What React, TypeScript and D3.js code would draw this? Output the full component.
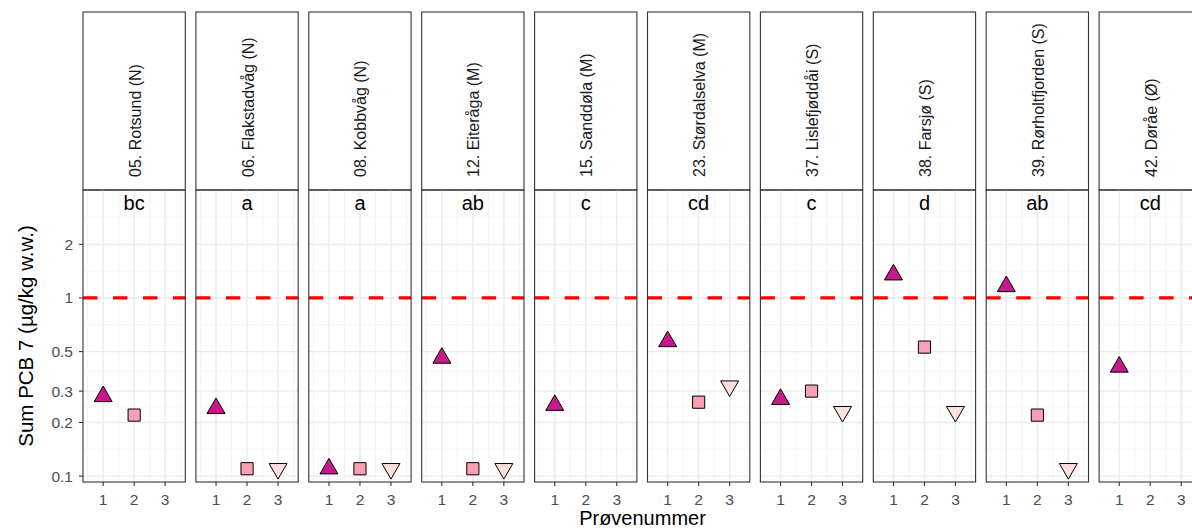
import React from "react";
import * as d3 from "d3";

const stations = [
  "05. Rotsund (N)",
  "06. Flakstadvåg (N)",
  "08. Kobbvåg (N)",
  "12. Eiteråga (M)",
  "15. Sanddøla (M)",
  "23. Størdalselva (M)",
  "37. Lislefjøddåi (S)",
  "38. Farsjø (S)",
  "39. Rørholtfjorden (S)",
  "42. Døråe (Ø)",
];
const letters = ["bc", "a", "a", "ab", "c", "cd", "c", "d", "ab", "cd"];
const sample1: (number | null)[] = [0.28, 0.24, 0.11, 0.46, 0.25, 0.57, 0.27, 1.35, 1.16, 0.41];
const sample2: (number | null)[] = [0.22, 0.11, 0.11, 0.11, null, 0.26, 0.3, 0.53, 0.22, null];
const sample3: (number | null)[] = [null, 0.11, 0.11, 0.11, null, 0.32, 0.23, 0.23, 0.11, null];
const yTicks = [0.1, 0.2, 0.3, 0.5, 1, 2];
const xTicks = [1, 2, 3];
const xMinor = [0.5, 1.5, 2.5, 3.5];
const threshold = 1;
const letterY = 3.4;

const W = 1192;
const H = 530;
const panelLeft0 = 83;
const panelStep = 112.9;
const panelW = 102.3;
const stripTop = 12;
const panelTop = 190;
const panelBottom = 482;

const fills = ["#C51B8A", "#FA9FB5", "#FDE0DD"];
const font = "'Liberation Sans', Arial, sans-serif";

export default function App() {
  const logMin = Math.log10(0.11);
  const logMax = Math.log10(letterY);
  const pad = (logMax - logMin) * 0.05;
  const y = d3
    .scaleLog()
    .domain([Math.pow(10, logMin - pad), Math.pow(10, logMax + pad)])
    .range([panelBottom, panelTop]);

  const lims = [logMin - pad, ...yTicks.map(Math.log10), logMax + pad];
  const yMinor: number[] = [];
  for (let i = 0; i < lims.length - 1; i++) {
    yMinor.push(Math.pow(10, (lims[i] + lims[i + 1]) / 2));
  }

  const series = [sample1, sample2, sample3];
  const triUp = d3.symbol().type(d3.symbolTriangle).size(140)()!;
  const square = d3.symbol().type(d3.symbolSquare).size(148)()!;

  return (
    <svg
      width={W}
      height={H}
      style={{ position: "absolute", left: 0, top: 0, background: "#fff" }}
      fontFamily={font}
    >
      <rect x={0} y={0} width={W} height={H} fill="#fff" />
      {stations.map((st, i) => {
        const left = panelLeft0 + i * panelStep;
        const x = d3.scaleLinear().domain([0.35, 3.65]).range([left, left + panelW]);
        const cx = left + panelW / 2;
        return (
          <g key={st}>
            <rect
              x={left}
              y={stripTop}
              width={panelW}
              height={panelTop - stripTop}
              fill="#fff"
              stroke="#333"
              strokeWidth={1.1}
            />
            <text
              transform={`translate(${cx + 1},${panelTop - 13}) rotate(-90)`}
              fontSize={16}
              fill="#1A1A1A"
              textAnchor="start"
              dominantBaseline="central"
            >
              {st}
            </text>
            {yMinor.map((v, k) => (
              <line key={"ym" + k} x1={left} x2={left + panelW} y1={y(v)} y2={y(v)} stroke="#F2F2F2" strokeWidth={0.8} />
            ))}
            {xMinor.map((v, k) => (
              <line key={"xm" + k} x1={x(v)} x2={x(v)} y1={panelTop} y2={panelBottom} stroke="#F2F2F2" strokeWidth={0.8} />
            ))}
            {yTicks.map((v, k) => (
              <line key={"yM" + k} x1={left} x2={left + panelW} y1={y(v)} y2={y(v)} stroke="#EBEBEB" strokeWidth={1.4} />
            ))}
            {xTicks.map((v, k) => (
              <line key={"xM" + k} x1={x(v)} x2={x(v)} y1={panelTop} y2={panelBottom} stroke="#EBEBEB" strokeWidth={1.4} />
            ))}
            <line
              x1={left}
              x2={left + panelW}
              y1={y(threshold)}
              y2={y(threshold)}
              stroke="#FF0000"
              strokeWidth={3.2}
              strokeDasharray="14.5 15.5"
            />
            <text x={cx} y={y(letterY)} fontSize={20} textAnchor="middle" dominantBaseline="central" fill="#000">
              {letters[i]}
            </text>
            {series.map((s, k) => {
              const v = s[i];
              if (v == null) return null;
              const px = x(k + 1);
              const py = y(v);
              if (k === 1)
                return <path key={"p" + k} d={square} transform={`translate(${px},${py})`} fill={fills[k]} stroke="#000" strokeWidth={1} />;
              const rot = k === 2 ? " rotate(180)" : "";
              return <path key={"p" + k} d={triUp} transform={`translate(${px},${py})${rot}`} fill={fills[k]} stroke="#000" strokeWidth={1} />;
            })}
            <rect
              x={left}
              y={panelTop}
              width={panelW}
              height={panelBottom - panelTop}
              fill="none"
              stroke="#333"
              strokeWidth={1.1}
            />
            {xTicks.map((v) => (
              <g key={"xt" + v}>
                <line x1={x(v)} x2={x(v)} y1={panelBottom} y2={panelBottom + 4} stroke="#333" strokeWidth={1.1} />
                <text x={x(v)} y={panelBottom + 17} fontSize={15.5} fill="#4D4D4D" textAnchor="middle" dominantBaseline="central">
                  {v}
                </text>
              </g>
            ))}
          </g>
        );
      })}
      {yTicks.map((v) => (
        <g key={"yt" + v}>
          <line x1={panelLeft0 - 4} x2={panelLeft0} y1={y(v)} y2={y(v)} stroke="#333" strokeWidth={1.1} />
          <text x={panelLeft0 - 10} y={y(v)} fontSize={15.5} fill="#4D4D4D" textAnchor="end" dominantBaseline="central">
            {v}
          </text>
        </g>
      ))}
      <text
        transform={`translate(25,${(panelTop + panelBottom) / 2}) rotate(-90)`}
        fontSize={20.5}
        fill="#000"
        textAnchor="middle"
        dominantBaseline="central"
      >
        Sum PCB 7 (µg/kg w.w.)
      </text>
      <text x={642.5} y={525} fontSize={20} fill="#000" textAnchor="middle">
        Prøvenummer
      </text>
    </svg>
  );
}
